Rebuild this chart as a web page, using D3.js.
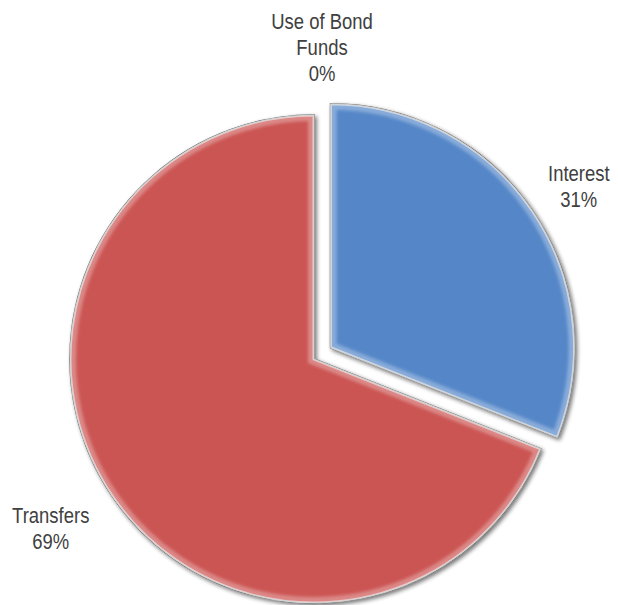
<!DOCTYPE html>
<html>
<head>
<meta charset="utf-8">
<script src="https://d3js.org/d3.v7.min.js"></script>
<style>
  body { margin: 0; background: #fff; }
  text { font-family: "Liberation Sans", Arial, sans-serif; font-size: 22px; fill: #404040; }
</style>
</head>
<body>
<script>
  // chart data
  var categories = ["Interest", "Transfers", "Use of Bond Funds"];
  var labelLines = [["Interest"], ["Transfers"], ["Use of Bond", "Funds"]];
  var values = [31, 69, 0];
  var colors = ["#5487c8", "#cb5552", "#9bbb59"];
  var explode = [20, 0, 0];

  var width = 618, height = 605;
  var cx = 314, cy = 359, radius = 244, labelRadius = 305, lineH = 26;
  var narrow = 0.84; // no Arial Narrow here, so squeeze the sans horizontally
  // small hand tweaks so labels sit where the original put them
  var labelNudge = { "Interest": [-4, 10], "Transfers": [-11, -2], "Use of Bond Funds": [8, -7] };

  var svg = d3.select("body").append("svg")
      .attr("width", width)
      .attr("height", height);

  var defs = svg.append("defs");
  var shadow = defs.append("filter").attr("id", "shadow")
      .attr("x", "-10%").attr("y", "-10%").attr("width", "120%").attr("height", "120%");
  shadow.append("feGaussianBlur").attr("in", "SourceAlpha").attr("stdDeviation", 2).attr("result", "b");
  shadow.append("feOffset").attr("in", "b").attr("dx", 1.5).attr("dy", 2).attr("result", "o");
  shadow.append("feComponentTransfer").attr("in", "o").attr("result", "s")
    .append("feFuncA").attr("type", "linear").attr("slope", 0.55);
  var m = shadow.append("feMerge");
  m.append("feMergeNode").attr("in", "s");
  m.append("feMergeNode").attr("in", "SourceGraphic");

  defs.append("filter").attr("id", "soft")
    .append("feGaussianBlur").attr("stdDeviation", 1.6);

  var total = d3.sum(values);
  var data = categories.map(function(c, i) {
    return { name: c, lines: labelLines[i], value: values[i], color: colors[i], explode: explode[i] };
  });

  var pie = d3.pie().sort(null).value(function(d) { return d.value; });
  var arc = d3.arc().innerRadius(0).outerRadius(radius);
  var labelArc = d3.arc().innerRadius(labelRadius).outerRadius(labelRadius);

  var arcs = pie(data);

  function offset(d) {
    var a = (d.startAngle + d.endAngle) / 2;
    return [Math.sin(a) * d.data.explode, -Math.cos(a) * d.data.explode];
  }

  var g = svg.append("g").attr("transform", "translate(" + cx + "," + cy + ")");

  var slices = g.selectAll("g.slice")
    .data(arcs.filter(function(d) { return d.value > 0; }))
    .enter().append("g")
      .attr("class", "slice")
      .attr("transform", function(d) { var o = offset(d); return "translate(" + o[0] + "," + o[1] + ")"; });

  slices.append("clipPath")
      .attr("id", function(d, i) { return "clip" + i; })
    .append("path")
      .attr("d", arc);

  // base shape with soft shadow and grey edge
  slices.append("path")
      .attr("d", arc)
      .attr("fill", function(d) { return d.data.color; })
      .attr("stroke", "#6b6b6b")
      .attr("stroke-width", 1.5)
      .attr("filter", "url(#shadow)");

  // bevel: light rim inside the edges
  slices.append("g")
      .attr("clip-path", function(d, i) { return "url(#clip" + i + ")"; })
    .append("path")
      .attr("d", arc)
      .attr("fill", "none")
      .attr("stroke", "#ffffff")
      .attr("stroke-opacity", 0.3)
      .attr("stroke-width", 12)
      .attr("filter", "url(#soft)");

  slices.append("g")
      .attr("clip-path", function(d, i) { return "url(#clip" + i + ")"; })
    .append("path")
      .attr("d", arc)
      .attr("fill", "none")
      .attr("stroke", "#ffffff")
      .attr("stroke-opacity", 0.55)
      .attr("stroke-width", 3);

  slices.append("path")
      .attr("d", arc)
      .attr("fill", "none")
      .attr("stroke", "#d8d8d8")
      .attr("stroke-width", 0.8);

  // labels
  var labels = g.selectAll("text.label")
    .data(arcs)
    .enter().append("text")
      .attr("class", "label")
      .attr("text-anchor", "middle")
      .attr("transform", function(d) {
        var c = labelArc.centroid(d), o = offset(d), nd = labelNudge[d.data.name] || [0, 0];
        var n = d.data.lines.length + 1;
        var top = c[1] + o[1] + nd[1] - (n - 1) * lineH / 2 + 8;
        return "translate(" + (c[0] + o[0] + nd[0]) + "," + top + ") scale(" + narrow + ",1)";
      });

  labels.each(function(d) {
    var t = d3.select(this);
    var lines = d.data.lines.concat([Math.round(d.value / total * 100) + "%"]);
    lines.forEach(function(s, i) {
      t.append("tspan").attr("x", 0).attr("dy", i === 0 ? 0 : lineH).text(s);
    });
  });
</script>
</body>
</html>
